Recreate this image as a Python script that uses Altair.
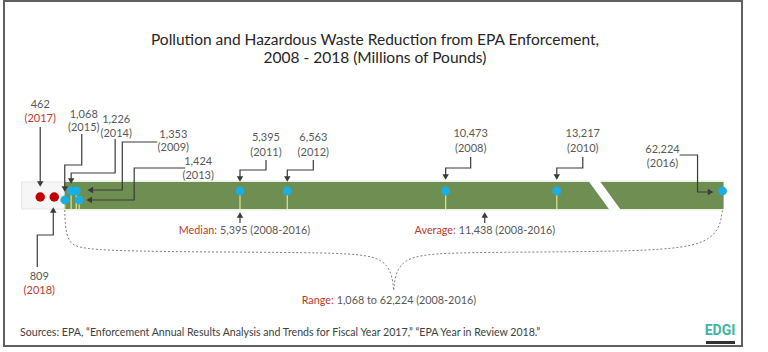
import altair as alt
import pandas as pd

W, H = 768, 352

# ---------------- data ----------------
title_lines = ["Pollution and Hazardous Waste Reduction from EPA Enforcement,",
               "2008 - 2018 (Millions of Pounds)"]
years = ["2008", "2009", "2010", "2011", "2012", "2013", "2014", "2015", "2016", "2017", "2018"]
values = [10473, 1353, 13217, 5395, 6563, 1424, 1226, 1068, 62224, 462, 809]
value_labels = ["10,473", "1,353", "13,217", "5,395", "6,563", "1,424", "1,226", "1,068",
                "62,224", "462", "809"]
highlight_years = ["2017", "2018"]
median_value = 5395
median_label = ["Median:", "5,395 (2008-2016)"]
average_value = 11438
average_label = ["Average:", "11,438 (2008-2016)"]
range_low, range_high = 1068, 62224
range_label = ["Range:", "1,068 to 62,224 (2008-2016)"]
source_text = ("Sources: EPA, \u201cEnforcement Annual Results Analysis and Trends for "
               "Fiscal Year 2017,\u201d \u201cEPA Year in Review 2018.\u201d")
logo_text = "EDGI"

# ---------------- styling / layout ----------------
GREEN = "#6f8f52"
BLUE = "#17afe6"
RED_DOT = "#c00000"
RED_TXT = "#c0392b"
GRAY_TXT = "#595959"
ARROW = "#3a3a3a"
FRAME = "#606060"
TEAL = "#3db5a0"
FONT = "Lato"

X0 = 21.5      # pixel of value 0
K = 0.0405     # pixels per million pounds
BREAK_LIMIT = 14000        # values beyond the axis break
BROKEN_AXIS_POS = 17310    # where values beyond the break are drawn
BREAK_AT = 14400           # location of the break stripe


def px2v(p):
    return (p - X0) / K


xs = alt.Scale(domain=[px2v(0), px2v(W)], range=[0, W], nice=False, zero=False)
ys = alt.Scale(domain=[0, H], range=[0, H], nice=False, zero=False)


def X(f="x"):
    return alt.X(f, type="quantitative", scale=xs, axis=None)


def X2(f):
    return alt.X2(f)


def Y(f="y"):
    return alt.Y(f, type="quantitative", scale=ys, axis=None)


BAR_TOP, BAR_BOT = 182, 209
DOT_Y = {"2015": 200, "2013": 200, "2017": 197, "2018": 197}
DEFAULT_DOT_Y = 191

LABELS = {  # dx (px from point), y of value line, y of year line
    "2008": (25, 134, 149), "2009": (97, 135, 148), "2010": (26, 134, 149),
    "2011": (26, 138, 153), "2012": (26, 138, 153), "2013": (119, 162, 176),
    "2014": (45, 120, 134), "2015": (19, 115, 128), "2016": (-60, 150, 164),
    "2017": (0, 105, 119), "2018": (-15, 277, 291),
}
CONNECTORS = {  # path points (dx, y), arrow head (dx, y, shape)
    "2008": ([(25, 157), (25, 168), (0, 168), (0, 176)], (0, 177, "triangle-down")),
    "2010": ([(26, 157), (26, 168), (0, 168), (0, 176)], (0, 177, "triangle-down")),
    "2011": ([(26, 160), (26, 170), (0, 170), (0, 178)], (0, 179, "triangle-down")),
    "2012": ([(26, 160), (26, 170), (0, 170), (0, 178)], (0, 179, "triangle-down")),
    "2009": ([(81, 142), (46, 142), (46, 190), (14, 190)], (14, 190, "triangle-left")),
    "2013": ([(106, 168), (55, 168), (55, 200), (10, 200)], (10, 200, "triangle-left")),
    "2014": ([(44, 139), (44, 173), (0, 173), (0, 180)], (0, 181, "triangle-down")),
    "2015": ([(17, 134), (17, 165), (0, 165), (0, 188)], (0, 189, "triangle-down")),
    "2016": ([(-43, 155), (-25, 155), (-25, 192), (-14, 192)], (-12, 192, "triangle-right")),
    "2017": ([(0, 127), (0, 183)], (0, 184, "triangle-down")),
    "2018": ([(-17, 267), (-17, 235), (-1, 235), (-1, 211)], (-1, 210, "triangle-up")),
}

# ---------------- derived tables ----------------
xpos = {y: (v if v < BREAK_LIMIT else BROKEN_AXIS_POS) for y, v in zip(years, values)}

pts = pd.DataFrame({
    "year": years,
    "x": [xpos[y] for y in years],
    "y": [DOT_Y.get(y, DEFAULT_DOT_Y) for y in years],
    "color": [RED_DOT if y in highlight_years else BLUE for y in years],
    "r": [90 if y in highlight_years else 78 for y in years],
})
blue = pts[~pts["year"].isin(highlight_years) & (pts["year"] != "2016")].copy()
blue["y2"] = BAR_BOT

lab_rows = []
for y, lab in zip(years, value_labels):
    dx, y1, y2 = LABELS[y]
    lab_rows.append({"x": xpos[y] + dx / K, "y": y1, "text": lab, "color": GRAY_TXT})
    lab_rows.append({"x": xpos[y] + dx / K, "y": y2, "text": f"({y})",
                     "color": RED_TXT if y in highlight_years else GRAY_TXT})
labs = pd.DataFrame(lab_rows)

con_rows, head_rows = [], []
for y, (path, head) in CONNECTORS.items():
    for i, (dx, yy) in enumerate(path):
        con_rows.append({"key": y, "o": i, "x": xpos[y] + dx / K, "y": yy})
    head_rows.append({"x": xpos[y] + head[0] / K, "y": head[1], "shape": head[2]})

# median / average arrows
for key, v in [("med", median_value), ("avg", average_value)]:
    con_rows.append({"key": key, "o": 0, "x": v, "y": 223})
    con_rows.append({"key": key, "o": 1, "x": v, "y": 216})
    head_rows.append({"x": v, "y": 215, "shape": "triangle-up"})
cons = pd.DataFrame(con_rows)
heads = pd.DataFrame(head_rows)

stat_rows = []
for v, (a, b), split in [(median_value, median_label, -22),
                         (average_value, average_label, -28)]:
    stat_rows.append({"x": v + (split - 1) / K, "y": 231, "text": a, "color": RED_TXT, "al": "right"})
    stat_rows.append({"x": v + (split + 2) / K, "y": 231, "text": b, "color": GRAY_TXT, "al": "left"})
mid = (range_low + BROKEN_AXIS_POS) / 2
stat_rows.append({"x": mid + (-59 - 1) / K, "y": 301, "text": range_label[0], "color": RED_TXT, "al": "right"})
stat_rows.append({"x": mid + (-59 + 2) / K, "y": 301, "text": range_label[1], "color": GRAY_TXT, "al": "left"})
stats = pd.DataFrame(stat_rows)

anchors = {"low": range_low, "mid": mid, "high": BROKEN_AXIS_POS}
brace_spec = {
    "L": [("low", 0, 210), ("low", 1, 244), ("low", 22, 252), ("mid", -60, 252),
          ("mid", -4, 256), ("mid", 0, 290)],
    "R": [("mid", 0, 290), ("mid", 4, 256), ("mid", 60, 252), ("high", -90, 252),
          ("high", -6, 246), ("high", 0, 210)],
}
brace = pd.DataFrame([{"key": k, "o": i, "x": anchors[a] + dx / K, "y": yy}
                      for k, lst in brace_spec.items() for i, (a, dx, yy) in enumerate(lst)])

bar = pd.DataFrame({"x": [range_low], "x2": [BROKEN_AXIS_POS + 1 / K],
                    "y": [BAR_TOP], "y2": [BAR_BOT]})
lowbox = pd.DataFrame({"x": [0], "x2": [range_low], "y": [BAR_TOP], "y2": [BAR_BOT]})
stripe = pd.DataFrame({"x": [BREAK_AT - 12 / K, BREAK_AT + 12 / K], "y": [179, 212], "o": [0, 1]})
one = pd.DataFrame({"a": [0]})
titles = pd.DataFrame({"text": title_lines, "y": [40, 58]})

# ---------------- layers ----------------
frame = alt.Chart(one).mark_rect(fillOpacity=0, stroke=FRAME, strokeWidth=2).encode(
    x=alt.value(4), x2=alt.value(742), y=alt.value(1), y2=alt.value(346))

title = alt.Chart(titles).mark_text(font=FONT, fontSize=15.5, color="#262626",
                                    baseline="middle", align="center").encode(
    x=alt.value(375), y=Y("y"), text="text:N")

low_layer = alt.Chart(lowbox).mark_rect(fill="#f6f6f6", stroke="#e4e4e4", strokeWidth=1).encode(
    x=X("x"), x2=X2("x2"), y=Y("y"), y2=alt.Y2("y2"))
glow = alt.Chart(bar.assign(y=BAR_TOP - 1.5, y2=BAR_BOT + 1.5)).mark_rect(
    fill=GREEN, opacity=0.15).encode(x=X("x"), x2=X2("x2"), y=Y("y"), y2=alt.Y2("y2"))
bar_layer = alt.Chart(bar).mark_rect(fill=GREEN).encode(
    x=X("x"), x2=X2("x2"), y=Y("y"), y2=alt.Y2("y2"))
stripe_layer = alt.Chart(stripe).mark_line(color="white", strokeWidth=9, strokeCap="butt").encode(
    x=X("x"), y=Y("y"), order="o:Q")
ticks = alt.Chart(blue).mark_rule(color="#d3df95", strokeWidth=1.3).encode(
    x=X("x"), y=Y("y"), y2=alt.Y2("y2"))
dots = alt.Chart(pts).mark_circle(opacity=1).encode(
    x=X("x"), y=Y("y"), color=alt.Color("color:N", scale=None),
    size=alt.Size("r:Q", scale=None))
brace_layer = alt.Chart(brace).mark_line(color="#808080", strokeWidth=1, strokeDash=[2, 2],
                                         interpolate="basis").encode(
    x=X("x"), y=Y("y"), detail="key:N", order="o:Q")
con_layer = alt.Chart(cons).mark_line(color=ARROW, strokeWidth=1.2).encode(
    x=X("x"), y=Y("y"), detail="key:N", order="o:Q")
head_layer = alt.Chart(heads).mark_point(filled=True, opacity=1, color=ARROW, size=42,
                                         strokeWidth=0).encode(
    x=X("x"), y=Y("y"), shape=alt.Shape("shape:N", scale=None))
lab_layer = alt.Chart(labs).mark_text(font=FONT, fontSize=11, baseline="middle",
                                      align="center").encode(
    x=X("x"), y=Y("y"), text="text:N", color=alt.Color("color:N", scale=None))
stat_l = alt.Chart(stats[stats["al"] == "right"]).mark_text(
    font=FONT, fontSize=10.8, baseline="middle", align="right").encode(
    x=X("x"), y=Y("y"), text="text:N", color=alt.Color("color:N", scale=None))
stat_r = alt.Chart(stats[stats["al"] == "left"]).mark_text(
    font=FONT, fontSize=10.8, baseline="middle", align="left").encode(
    x=X("x"), y=Y("y"), text="text:N", color=alt.Color("color:N", scale=None))
source = alt.Chart(pd.DataFrame({"t": [source_text]})).mark_text(
    font=FONT, fontSize=10.6, color="#404040", align="left", baseline="middle").encode(
    x=alt.value(20), y=alt.value(333), text="t:N")
logo = alt.Chart(pd.DataFrame({"t": [logo_text]})).mark_text(
    font="Roboto", fontSize=14, fontWeight="bold", color=TEAL, align="center",
    baseline="middle").encode(
    x=alt.value(720), y=alt.value(331), text="t:N")
logo_bar = alt.Chart(one).mark_rect(fill="#333333").encode(
    x=alt.value(706), x2=alt.value(735), y=alt.value(341), y2=alt.value(344))

chart = alt.layer(
    frame, title, low_layer, glow, bar_layer, stripe_layer, ticks, brace_layer,
    con_layer, head_layer, dots, lab_layer, stat_l, stat_r, source, logo, logo_bar,
).properties(
    width=W, height=H, autosize=alt.AutoSizeParams(type="none"), padding=0,
    background="white",
).configure_view(strokeWidth=0)

chart.save("out.html", embed_options={"renderer": "svg", "actions": False})
